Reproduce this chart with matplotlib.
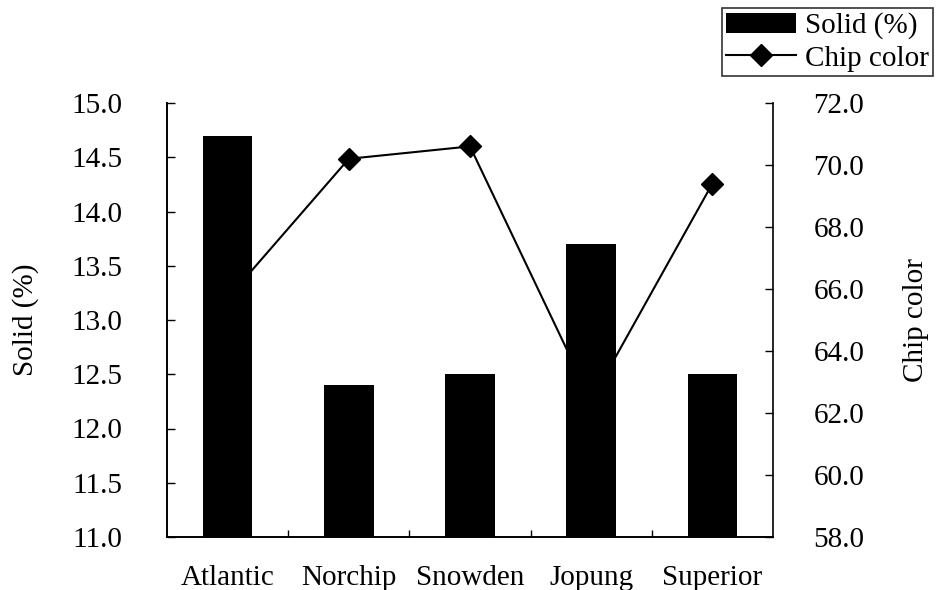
import matplotlib
matplotlib.use("Agg")
import matplotlib.pyplot as plt
import numpy as np

# potato cultivars, solids content and chip colour
cultivars = ["Atlantic", "Norchip", "Snowden", "Jopung", "Superior"]
solid_pct = [14.7, 12.4, 12.5, 13.7, 12.5]
chip_color = [65.7, 70.2, 70.6, 62.4, 69.4]

solid_ticks = [11.0, 11.5, 12.0, 12.5, 13.0, 13.5, 14.0, 14.5, 15.0]
color_ticks = [58.0, 60.0, 62.0, 64.0, 66.0, 68.0, 70.0, 72.0]

plt.rcParams['font.family'] = ['Liberation Serif', 'DejaVu Serif']
plt.rcParams['font.size'] = 21

fig = plt.figure(figsize=(9.36, 5.9), dpi=100)
ax = fig.add_axes([167 / 936, 1 - 537 / 590, 606 / 936, 434 / 590])
ax2 = ax.twinx()

x = np.arange(len(cultivars))

# bars sit above the line, so the line disappears behind them
ax.set_zorder(ax2.get_zorder() + 1)
ax.patch.set_visible(False)

bars = ax.bar(x, solid_pct, width=0.41, color='black', label='Solid (%)')
line, = ax2.plot(x, chip_color, color='black', lw=1.5, marker='D',
                 markersize=11, label='Chip color')

ax.set_xlim(-0.5, len(cultivars) - 0.5)
ax.set_ylim(11.0, 15.0)
ax2.set_ylim(58.0, 72.0)

ax.set_yticks(solid_ticks)
ax.set_yticklabels([f"{v:.1f}" for v in solid_ticks])
ax2.set_yticks(color_ticks)
ax2.set_yticklabels([f"{v:.1f}" for v in color_ticks])

# category labels centred under bars, ticks on the category boundaries
ax.set_xticks(x)
ax.set_xticklabels(cultivars)
ax.tick_params(axis='x', length=0, pad=20)
ax.set_xticks(np.arange(0.5, len(cultivars) - 1), minor=True)
ax.tick_params(axis='x', which='minor', direction='in', length=5, width=1)

ax.tick_params(axis='y', direction='in', length=6, width=1, pad=32)
ax2.tick_params(axis='y', direction='in', length=6, width=1, pad=29)

for a in (ax, ax2):
    a.spines['top'].set_visible(False)
    for s in a.spines.values():
        s.set_linewidth(1.2)
ax.spines['right'].set_visible(False)

ax.set_ylabel('Solid (%)')
ax.yaxis.set_label_coords(-0.212, 0.5)
ax2.set_ylabel('Chip color')
ax2.yaxis.set_label_coords(1.215, 0.5)

leg = fig.legend([bars, line], ['Solid (%)', 'Chip color'],
                 loc='upper right', bbox_to_anchor=(933 / 936, 1 - 8 / 590),
                 fontsize=21, frameon=True, fancybox=False, borderpad=0.15,
                 handlelength=2.4, handletextpad=0.3, labelspacing=0.2,
                 borderaxespad=0)
leg.get_frame().set_edgecolor('black')
leg.get_frame().set_linewidth(1.2)

fig.savefig('out.png', dpi=100)
